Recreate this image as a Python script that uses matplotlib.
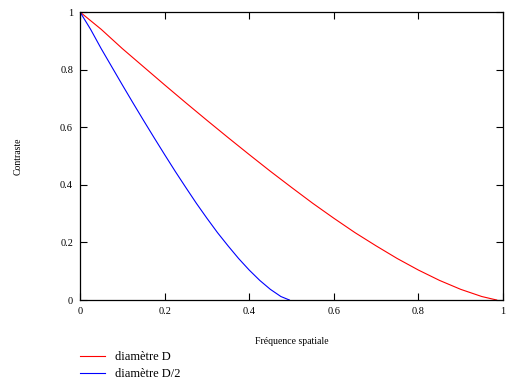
import matplotlib
matplotlib.use("Agg")
import matplotlib.pyplot as plt

# values
freq_d = [0.0, 0.05, 0.1, 0.15, 0.2, 0.25, 0.3, 0.35, 0.4, 0.45, 0.5,
          0.55, 0.6, 0.65, 0.7, 0.75, 0.8, 0.85, 0.9, 0.95, 0.985]
contr_d = [1.0, 0.94, 0.873, 0.81, 0.747, 0.685, 0.624, 0.564, 0.505, 0.447, 0.391,
           0.336, 0.284, 0.234, 0.188, 0.144, 0.104, 0.068, 0.037, 0.012, 0.0]

freq_d2 = [0.0, 0.025, 0.05, 0.075, 0.1, 0.125, 0.15, 0.175, 0.2, 0.225, 0.25,
           0.275, 0.3, 0.325, 0.35, 0.375, 0.4, 0.425, 0.45, 0.475, 0.495]
contr_d2 = [1.0, 0.94, 0.873, 0.81, 0.747, 0.685, 0.624, 0.564, 0.505, 0.447, 0.391,
            0.336, 0.284, 0.234, 0.188, 0.144, 0.104, 0.068, 0.037, 0.012, 0.0]

xticks = [0, 0.2, 0.4, 0.6, 0.8, 1]
yticks = [0, 0.2, 0.4, 0.6, 0.8, 1]
tick_labels = ['0', '0.2', '0.4', '0.6', '0.8', '1']

plt.rcParams['font.family'] = ['Liberation Serif', 'DejaVu Serif']

fig = plt.figure(figsize=(5.21, 3.80), dpi=100)
ax = fig.add_axes([80/521, 80/380, 423/521, 288/380])

red, = ax.plot(freq_d, contr_d, color='red', lw=0.8)
blue, = ax.plot(freq_d2, contr_d2, color='blue', lw=0.8)

ax.set_xlim(0, 1.0)
ax.set_ylim(0, 1)
ax.set_xticks(xticks)
ax.set_xticklabels(tick_labels)
ax.set_yticks(yticks)
ax.set_yticklabels(tick_labels)
ax.tick_params(direction='in', length=5, width=0.8, labelsize=7.5,
               top=True, right=True, pad=5)
for s in ax.spines.values():
    s.set_linewidth(0.9)

ax.set_xlabel('Fréquence spatiale', fontsize=7)
ax.xaxis.set_label_coords(0.5, -0.13)
ax.set_ylabel('Contraste', fontsize=7)
ax.yaxis.set_label_coords(-0.135, 0.5)

fig.legend([red, blue], ['diamètre D', 'diamètre D/2'],
           loc='upper left', bbox_to_anchor=(80/521, 1 - 351/380),
           frameon=False, fontsize=9, handlelength=2.0, handletextpad=0.8,
           labelspacing=0.4, borderaxespad=0, borderpad=0)

fig.savefig('out.png', dpi=100)
